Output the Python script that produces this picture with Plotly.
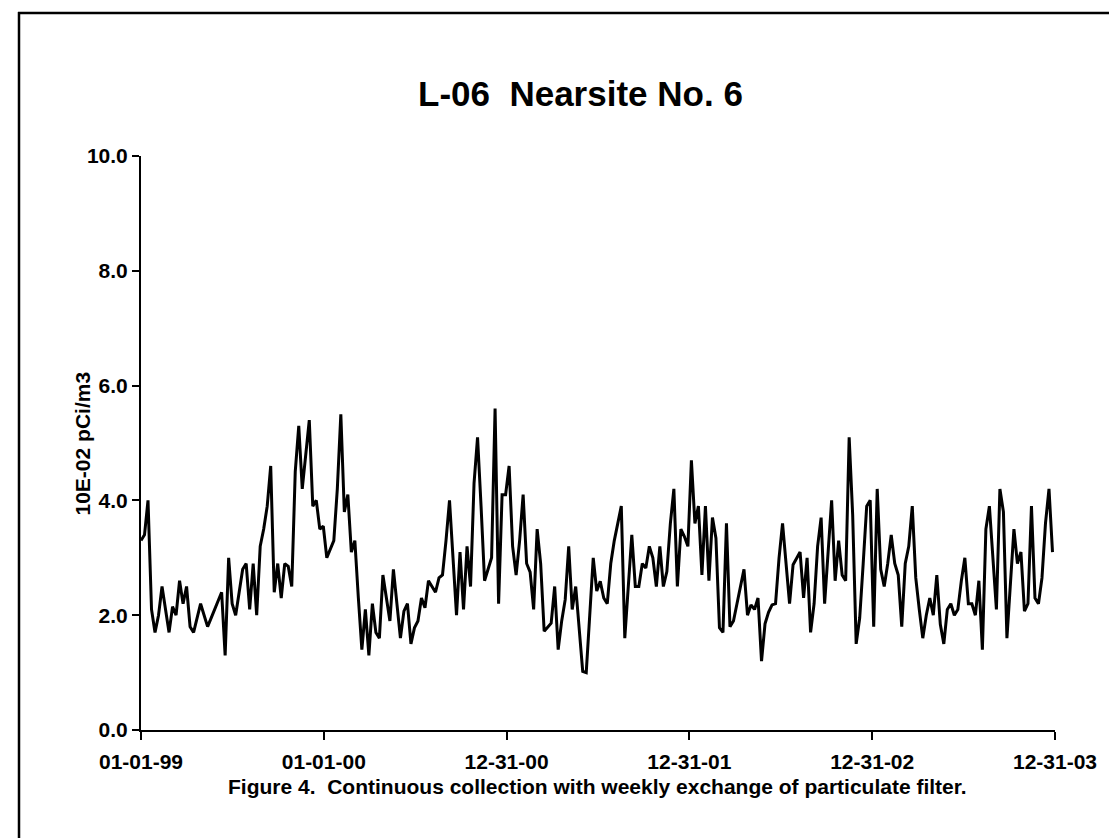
import plotly.graph_objects as go
import pandas as pd

# Weekly values (10E-02 pCi/m3), starting 1999-01-01
values = [
    3.3, 3.4, 4.0, 2.1, 1.7, 2.0, 2.5, 2.1, 1.7, 2.15,
    2.0, 2.6, 2.2, 2.5, 1.8, 1.7, 1.95, 2.2, 2.0, 1.8,
    1.95, 2.1, 2.25, 2.4, 1.3, 3.0, 2.2, 2.0, 2.4, 2.8,
    2.9, 2.1, 2.9, 2.0, 3.2, 3.5, 3.9, 4.6, 2.4, 2.9,
    2.3, 2.9, 2.85, 2.5, 4.5, 5.3, 4.2, 4.8, 5.4, 3.9,
    4.0, 3.5, 3.55, 3.0, 3.15, 3.3, 4.2, 5.5, 3.8, 4.1,
    3.1, 3.3, 2.3, 1.4, 2.1, 1.3, 2.2, 1.7, 1.6, 2.7,
    2.3, 1.9, 2.8, 2.25, 1.6, 2.07, 2.2, 1.5, 1.78, 1.9,
    2.3, 2.13, 2.6, 2.5, 2.4, 2.65, 2.7, 3.3, 4.0, 3.0,
    2.0, 3.1, 2.1, 3.2, 2.5, 4.3, 5.1, 3.9, 2.6, 2.8,
    3.0, 5.6, 2.2, 4.1, 4.1, 4.6, 3.2, 2.7, 3.3, 4.1,
    2.9, 2.75, 2.1, 3.5, 2.9, 1.72, 1.8, 1.86, 2.5, 1.4,
    1.9, 2.27, 3.2, 2.1, 2.5, 1.8, 1.02, 1.0, 2.1, 3.0,
    2.42, 2.59, 2.3, 2.2, 2.9, 3.3, 3.6, 3.9, 1.6, 2.5,
    3.4, 2.5, 2.5, 2.9, 2.82, 3.2, 3.0, 2.5, 3.2, 2.5,
    2.76, 3.6, 4.2, 2.5, 3.5, 3.37, 3.2, 4.7, 3.6, 3.9,
    2.7, 3.9, 2.6, 3.7, 3.34, 1.78, 1.7, 3.6, 1.8, 1.9,
    2.2, 2.5, 2.8, 2.0, 2.18, 2.1, 2.3, 1.2, 1.85, 2.05,
    2.18, 2.2, 3.0, 3.6, 2.9, 2.2, 2.88, 3.0, 3.1, 2.3,
    3.0, 1.7, 2.2, 3.2, 3.7, 2.2, 3.1, 4.0, 2.6, 3.3,
    2.7, 2.6, 5.1, 3.75, 1.5, 1.95, 2.9, 3.9, 4.0, 1.8,
    4.2, 2.8, 2.5, 2.9, 3.4, 2.9, 2.7, 1.8, 2.9, 3.2,
    3.9, 2.65, 2.1, 1.6, 2.0, 2.3, 2.0, 2.7, 1.84, 1.5,
    2.1, 2.2, 2.0, 2.1, 2.6, 3.0, 2.2, 2.2, 2.0, 2.6,
    1.4, 3.5, 3.9, 3.0, 2.1, 4.2, 3.8, 1.6, 2.6, 3.5,
    2.9, 3.1, 2.07, 2.2, 3.9, 2.3, 2.2, 2.65, 3.6, 4.2,
    3.1,
]
dates = pd.date_range("1999-01-01", periods=len(values), freq="7D")

tick_dates = ["1999-01-01", "2000-01-01", "2000-12-31", "2001-12-31", "2002-12-31", "2003-12-31"]
tick_labels = ["01-01-99", "01-01-00", "12-31-00", "12-31-01", "12-31-02", "12-31-03"]
y_ticks = [0, 2, 4, 6, 8, 10]

title_text = "L-06  Nearsite No. 6"
y_label = "10E-02 pCi/m3"
caption = "Figure 4.  Continuous collection with weekly exchange of particulate filter."

W, H = 1117, 838
L, R, T, B = 133, 70, 148, 116
pw, ph = W - L - R, H - T - B

def px(x):
    return (x - L) / pw

def py(y):
    return (H - B - y) / ph

FONT = "Liberation Sans, Arial, sans-serif"

fig = go.Figure()
fig.add_trace(go.Scatter(
    x=dates, y=values, mode="lines",
    line=dict(color="black", width=3),
    showlegend=False, hoverinfo="skip",
))

fig.update_layout(
    width=W, height=H,
    margin=dict(l=L, r=R, t=T, b=B, autoexpand=False),
    paper_bgcolor="white", plot_bgcolor="white",
    font=dict(family=FONT, color="black", size=20, weight="bold"),
    xaxis=dict(
        type="date",
        range=["1999-01-01", "2003-12-31"],
        tickvals=tick_dates, ticktext=tick_labels,
        showgrid=False, zeroline=False,
        showline=True, linecolor="black", linewidth=2,
        ticks="outside", ticklen=8, tickwidth=2, tickcolor="black",
        tickfont=dict(size=21, family=FONT, weight="bold"),
        ticklabelstandoff=4,
    ),
    yaxis=dict(
        range=[0, 10],
        tickvals=y_ticks, tickformat=".1f",
        showgrid=False, zeroline=False,
        showline=True, linecolor="black", linewidth=2,
        ticks="outside", ticklen=7, tickwidth=2, tickcolor="black",
        tickfont=dict(size=21, family=FONT, weight="bold"),
    ),
    annotations=[
        dict(text=title_text, x=px(572), y=py(64), xref="paper", yref="paper",
             showarrow=False, font=dict(size=35, family=FONT, weight="bold")),
        dict(text=y_label, x=px(60), y=py(436), xref="paper", yref="paper",
             showarrow=False, textangle=-90,
             font=dict(size=21, family=FONT, weight="bold")),
        dict(text=caption, x=px(589), y=py(792), xref="paper", yref="paper",
             showarrow=False, font=dict(size=21, family=FONT, weight="bold")),
    ],
    shapes=[
        dict(type="line", xref="paper", yref="paper",
             x0=px(11), x1=px(11), y0=py(4), y1=py(H + 2),
             line=dict(color="black", width=2.5)),
        dict(type="line", xref="paper", yref="paper",
             x0=px(10), x1=px(W + 2), y0=py(5), y1=py(5),
             line=dict(color="black", width=2.5)),
    ],
)

fig.write_html("out.html")
